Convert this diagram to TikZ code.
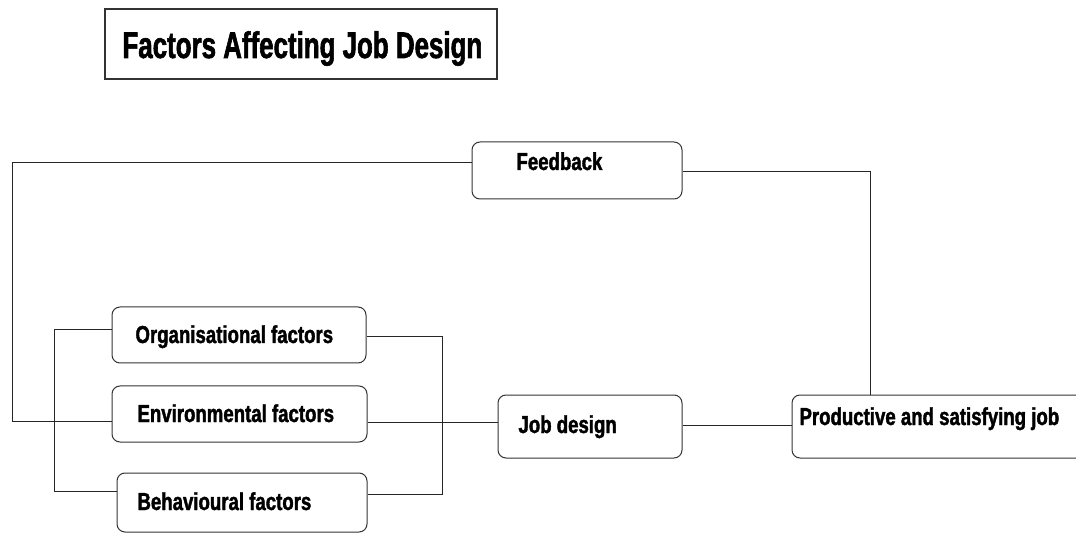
\documentclass[tikz,border=0pt]{standalone}
\usepackage{fontspec}
\usetikzlibrary{calc}
\newfontfamily\boxfont[FakeStretch=0.76,FakeBold=1.6]{Liberation Sans Bold}
\newfontfamily\headfont[FakeStretch=0.70,FakeBold=1.6]{Liberation Sans Bold}
\begin{document}
\begin{tikzpicture}[x=1pt,y=-1pt,
  line width=1pt,
  rbox/.style={draw=black!80, rounded corners=8pt, inner sep=0pt, line width=1pt},
  tbox/.style={draw=black!80, inner sep=0pt, line width=1.2pt},
  lbl/.style={anchor=base west, inner sep=0pt, font=\boxfont\fontsize{24.5}{25}\selectfont},
  conn/.style={draw=black!85, line width=1pt}]
\useasboundingbox (0,0) rectangle (1076,534);
\clip (0,0) rectangle (1076,534);
% boxes
\node[tbox, minimum width=392pt, minimum height=70pt] (title) at (301,44) {};
\node[anchor=base west, inner sep=0pt, font=\headfont\fontsize{37}{38}\selectfont] (titletxt) at (122,58) {Factors Affecting Job Design};
\node[rbox, minimum width=210pt, minimum height=57pt] (fb) at (577,170.5) {};
\node[lbl] (fbtxt) at (516,170) {Feedback};
\node[rbox, minimum width=254pt, minimum height=56pt] (org) at (239,335) {};
\node[lbl] (orgtxt) at (135,343) {Organisational factors};
\node[rbox, minimum width=255pt, minimum height=56pt] (env) at (239.5,414) {};
\node[lbl] (envtxt) at (137,422) {Environmental factors};
\node[rbox, minimum width=250pt, minimum height=59pt] (beh) at (242,502.5) {};
\node[lbl] (behtxt) at (137,510) {Behavioural factors};
\node[rbox, minimum width=184pt, minimum height=63pt] (jd) at (590,426.5) {};
\node[lbl] (jdtxt) at (518,433) {Job design};
\node[rbox, minimum width=310pt, minimum height=63pt] (prod) at (947,426.5) {};
\node[lbl] (prodtxt) at (799,425) {Productive and satisfying job};
% junction coordinates
\coordinate (outer) at (12,0);
\coordinate (inner) at (54,0);
\coordinate (rbr) at (442,0);
\coordinate (fbup) at (870,0);
% feedback loop
\draw[conn] (fb.west |- 0,163) -| (outer |- 0,421) -- (env.west |- 0,421);
\draw[conn] (fb.east |- 0,172) -| (fbup |- prod.north);
% left bracket
\draw[conn] (org.west |- 0,330) -- (inner |- 0,330) -- (inner |- 0,491) -- (beh.west |- 0,491);
% right bracket
\draw[conn] (org.east |- 0,337) -- (rbr |- 0,337) -- (rbr |- 0,494) -- (beh.east |- 0,494);
\draw[conn] (env.east |- 0,422) -- (jd.west |- 0,422);
% job design to productive
\draw[conn] (jd.east |- 0,425) -- (prod.west |- 0,425);
\end{tikzpicture}
\end{document}
